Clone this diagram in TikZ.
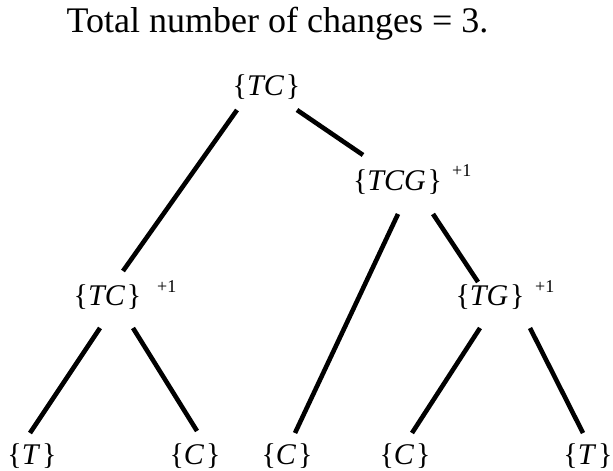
\documentclass[tikz,border=0pt]{standalone}
\usepackage{fontspec}
\setmainfont{Liberation Serif}
\tikzset{
  lbl/.style={inner sep=0pt, anchor=base, font=\fontsize{30bp}{36bp}\selectfont},
  ttl/.style={inner sep=0pt, anchor=base, font=\fontsize{36bp}{42bp}\selectfont},
  inc/.style={inner sep=0pt, anchor=base west, font=\fontsize{18bp}{22bp}\selectfont},
  edge/.style={line width=4.6bp}
}
\newcommand{\setl}[1]{\{\textit{#1}\kern0.06em\}}
\begin{document}
\begin{tikzpicture}[x=1bp,y=-1bp]
\useasboundingbox (0,0) rectangle (613,471);
\node[ttl] (title) at (277.5,33) {Total number of changes = 3.};
% labels
\node[lbl] (root) at (266.5,96) {\setl{TC}};
\node[lbl] (tcg) at (397.5,191) {\setl{TCG}};
\node[lbl] (tcl) at (107.5,306) {\setl{TC}};
\node[lbl] (tg) at (490,306) {\setl{TG}};
\node[lbl] (b1) at (32,464) {\setl{T}};
\node[lbl] (b2) at (195,464) {\setl{C}};
\node[lbl] (b3) at (287,464) {\setl{C}};
\node[lbl] (b4) at (405,464) {\setl{C}};
\node[lbl] (b5) at (588,464) {\setl{T}};
\node[inc] (p1) at (452,177) {+1};
\node[inc] (p2) at (157,293) {+1};
\node[inc] (p3) at (535,293) {+1};
% connector ends
\coordinate (root-l) at (237,110);
\coordinate (root-r) at (297,110);
\coordinate (tcl-t) at (123,271);
\coordinate (tcg-t) at (363,155);
\coordinate (tcg-l) at (398,214);
\coordinate (tcg-r) at (433,214);
\coordinate (b3-t) at (295,433);
\coordinate (tg-t) at (478,282);
\coordinate (tcl-l) at (100,328);
\coordinate (tcl-r) at (133,328);
\coordinate (b1-t) at (30,433);
\coordinate (b2-t) at (197,431);
\coordinate (tg-l) at (480,328);
\coordinate (tg-r) at (530,328);
\coordinate (b4-t) at (412,433);
\coordinate (b5-t) at (583,433);
\draw[edge] (root-l) -- (tcl-t);
\draw[edge] (root-r) -- (tcg-t);
\draw[edge] (tcg-l) -- (b3-t);
\draw[edge] (tcg-r) -- (tg-t);
\draw[edge] (tcl-l) -- (b1-t);
\draw[edge] (tcl-r) -- (b2-t);
\draw[edge] (tg-l) -- (b4-t);
\draw[edge] (tg-r) -- (b5-t);
\end{tikzpicture}
\end{document}
